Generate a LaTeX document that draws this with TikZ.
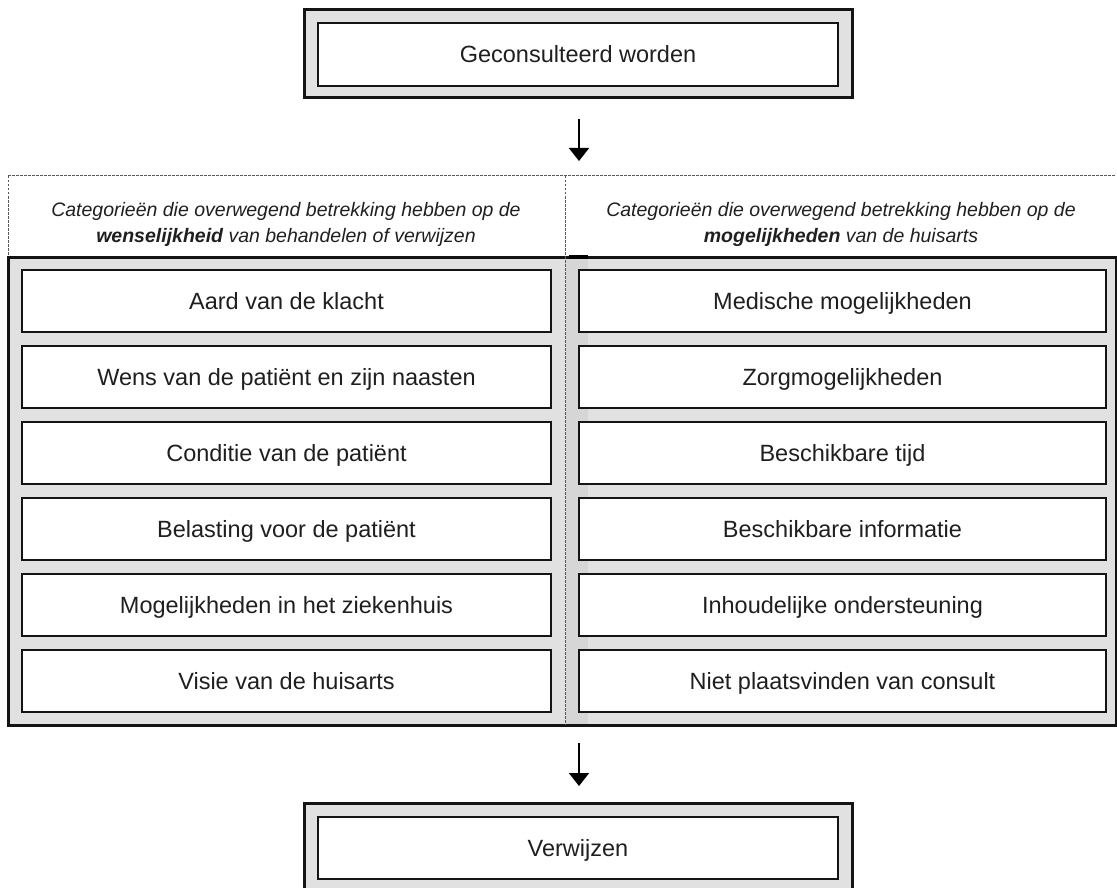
\documentclass[tikz,border=0pt]{standalone}
\usepackage{fontspec}
\setmainfont{Liberation Sans}
\usetikzlibrary{arrows.meta}
\definecolor{boxgray}{RGB}{225,225,225}
\definecolor{stripgray}{RGB}{214,214,214}
\begin{document}
\begin{tikzpicture}[x=1pt,y=-1pt,
  frame/.style={draw=black!92, line width=3pt, fill=boxgray, inner sep=0pt},
  item/.style={draw=black!92, line width=2.6pt, fill=white, minimum height=62pt, inner sep=0pt, text height=18.5pt, text depth=1.7pt, font=\fontsize{23.5}{28}\selectfont, text=black!88},
  hdr/.style={align=center, font=\fontsize{19.5}{26}\selectfont\itshape, text=black!88},
  sep/.style={draw=black!65, line width=1pt, dash pattern=on 2.5pt off 1.5pt},
  arr/.style={line width=2pt, -{Triangle[width=20pt,length=13pt]}}]
\useasboundingbox (0,0) rectangle (1117,888);

% top box
\node[frame, minimum width=548pt, minimum height=88pt] (topouter) at (578,54) {};
\node[item, minimum width=520pt, minimum height=63pt] (top) at (578,54.5) {Geconsulteerd worden};

% arrow 1
\coordinate (a1s) at (579,119);
\coordinate (a1e) at (579,161);
\draw[arr] (a1s) -- (a1e);

% big frame
\node[frame, minimum width=1108pt, minimum height=468pt] (big) at (562,491) {};
\fill[stripgray] (566,258.5) rectangle (588,723.5);
\draw[black, line width=4pt] (569,257) -- (588,257);

% header separators
\draw[sep] (8,176) -- (1116,176);
\draw[sep] (8,176) -- (8,256);
\draw[sep] (565,176) -- (565,725);

% headers
\node[hdr] (hl) at (286,224) {Categorieën die overwegend betrekking hebben op de\\\textbf{wenselijkheid} van behandelen of verwijzen};
\node[hdr] (hr) at (841,224) {Categorieën die overwegend betrekking hebben op de\\\textbf{mogelijkheden} van de huisarts};

% left column
\tikzset{litem/.style={item, minimum width=529pt}, ritem/.style={item, minimum width=527pt}}
\node[litem] (l1) at (286.5,301) {Aard van de klacht};
\node[litem] (l2) at (286.5,377) {Wens van de patiënt en zijn naasten};
\node[litem] (l3) at (286.5,453) {Conditie van de patiënt};
\node[litem] (l4) at (286.5,529) {Belasting voor de patiënt};
\node[litem] (l5) at (286.5,605) {Mogelijkheden in het ziekenhuis};
\node[litem] (l6) at (286.5,681) {Visie van de huisarts};

% right column
\node[ritem] (r1) at (842.5,301) {Medische mogelijkheden};
\node[ritem] (r2) at (842.5,377) {Zorgmogelijkheden};
\node[ritem] (r3) at (842.5,453) {Beschikbare tijd};
\node[ritem] (r4) at (842.5,529) {Beschikbare informatie};
\node[ritem] (r5) at (842.5,605) {Inhoudelijke ondersteuning};
\node[ritem] (r6) at (842.5,681) {Niet plaatsvinden van consult};

% arrow 2
\coordinate (a2s) at (579,743);
\coordinate (a2e) at (579,786);
\draw[arr] (a2s) -- (a2e);

% bottom box
\node[frame, minimum width=548pt, minimum height=92pt] (botouter) at (578,849) {};
\node[item, minimum width=520pt, minimum height=62pt] (bot) at (578,848) {Verwijzen};
\end{tikzpicture}
\end{document}
